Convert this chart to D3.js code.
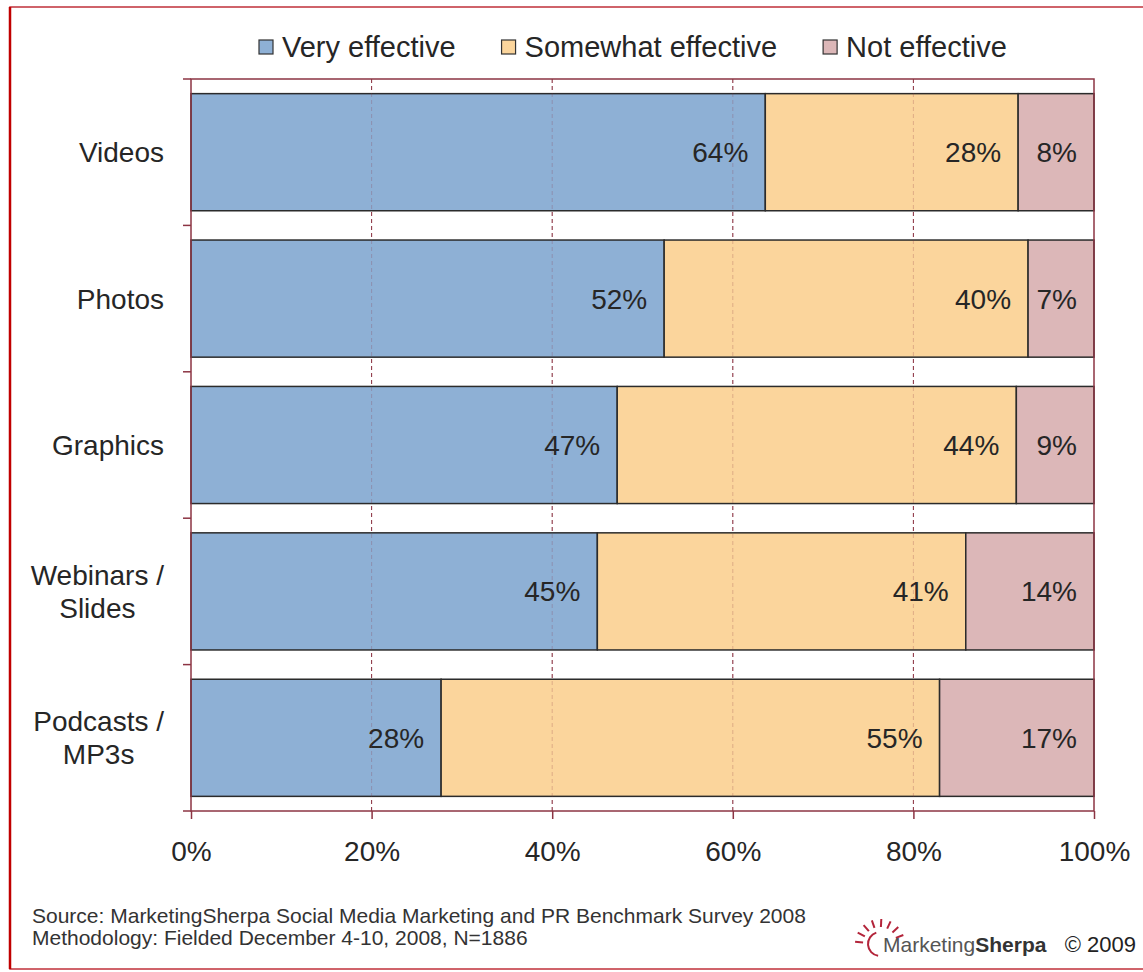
<!DOCTYPE html>
<html>
<head>
<meta charset="utf-8">
<script src="https://cdn.jsdelivr.net/npm/d3@7"></script>
<style>
  html, body { margin: 0; padding: 0; background: #fff; }
  svg { display: block; font-family: "Liberation Sans", Arial, sans-serif; }
</style>
</head>
<body>
<svg id="chart"></svg>
<script>
const width = 1143;
const height = 972;

// data
const categories = ['Videos', 'Photos', 'Graphics', 'Webinars /\nSlides', 'Podcasts /\nMP3s'];
const seriesNames = ['Very effective', 'Somewhat effective', 'Not effective'];
const veryEffective = [63.6, 52.4, 47.2, 45.0, 27.7];
const somewhatEffective = [28.0, 40.3, 44.2, 40.8, 55.2];
const notEffective = [8.4, 7.3, 8.6, 14.2, 17.1];
const xTicks = [0, 20, 40, 60, 80, 100];
const sourceLines = [
  'Source: MarketingSherpa Social Media Marketing and PR Benchmark Survey 2008',
  'Methodology: Fielded December 4-10, 2008, N=1886'
];

const colors = ['#8eb0d5', '#fbd59c', '#dcb7b8'];
const frameColor = '#8c3443';
const textColor = '#262626';

const rows = categories.map((c, i) => ({
  category: c,
  'Very effective': veryEffective[i],
  'Somewhat effective': somewhatEffective[i],
  'Not effective': notEffective[i]
}));

const svg = d3.select('#chart')
  .attr('width', width)
  .attr('height', height);

// outer border
svg.append('rect')
  .attr('x', 10).attr('y', 7)
  .attr('width', 1150).attr('height', 962)
  .attr('fill', 'none')
  .attr('stroke', '#c0303a')
  .attr('stroke-width', 1.5);
svg.append('line')
  .attr('x1', 10).attr('x2', 10).attr('y1', 7).attr('y2', 969)
  .attr('stroke', '#c00000').attr('stroke-width', 2.5);

const margin = { top: 79, right: 49, bottom: 161, left: 191 };

const x = d3.scaleLinear()
  .domain([0, 100])
  .range([margin.left, width - margin.right]);

const y = d3.scaleBand()
  .domain(categories)
  .range([margin.top, height - margin.bottom])
  .paddingInner(0.2)
  .paddingOuter(0.1);

const stack = d3.stack().keys(seriesNames);
const series = stack(rows);

// gridlines behind the bars
const gridTicks = xTicks.filter(t => t > 0 && t < 100);
svg.append('g')
  .selectAll('line')
  .data(gridTicks)
  .join('line')
  .attr('x1', d => x(d)).attr('x2', d => x(d))
  .attr('y1', y.range()[0]).attr('y2', y.range()[1])
  .attr('stroke', frameColor)
  .attr('stroke-width', 1)
  .attr('stroke-dasharray', '4,3');

// bars
const layers = svg.append('g')
  .selectAll('g')
  .data(series)
  .join('g')
  .attr('fill', (d, i) => colors[i]);

layers.selectAll('rect')
  .data(d => d)
  .join('rect')
  .attr('x', d => x(d[0]))
  .attr('width', d => x(d[1]) - x(d[0]))
  .attr('y', d => y(d.data.category))
  .attr('height', y.bandwidth())
  .attr('stroke', '#2b2b2b')
  .attr('stroke-width', 1.5);

// faint gridlines over the bars
svg.append('g')
  .selectAll('line')
  .data(gridTicks)
  .join('line')
  .attr('x1', d => x(d)).attr('x2', d => x(d))
  .attr('y1', y.range()[0]).attr('y2', y.range()[1])
  .attr('stroke', frameColor)
  .attr('stroke-opacity', 0.25)
  .attr('stroke-width', 1)
  .attr('stroke-dasharray', '4,3');

// value labels, right aligned inside each segment
layers.selectAll('text')
  .data(d => d)
  .join('text')
  .attr('x', d => x(d[1]) - 17)
  .attr('y', d => y(d.data.category) + y.bandwidth() / 2)
  .attr('dy', '0.36em')
  .attr('text-anchor', 'end')
  .attr('fill', textColor)
  .attr('font-size', 28)
  .text(d => Math.round(d[1] - d[0]) + '%');

// plot frame
svg.append('rect')
  .attr('x', x(0)).attr('y', y.range()[0])
  .attr('width', x(100) - x(0))
  .attr('height', y.range()[1] - y.range()[0])
  .attr('fill', 'none')
  .attr('stroke', frameColor)
  .attr('stroke-width', 1.5);

// x axis
const xAxis = svg.append('g')
  .attr('transform', `translate(0,${y.range()[1]})`)
  .call(d3.axisBottom(x).tickValues(xTicks).tickSize(8).tickPadding(22).tickFormat(d => d + '%'));
xAxis.select('.domain').remove();
xAxis.selectAll('line').attr('stroke', frameColor).attr('stroke-width', 1.5);
xAxis.selectAll('text')
  .attr('font-size', 28)
  .attr('font-family', '"Liberation Sans", Arial, sans-serif')
  .attr('fill', textColor);

// y axis ticks at the category boundaries
const step = y.step();
const boundaries = categories.map(c => y(c) - step * 0.1).concat([y.range()[1]]);
svg.append('g')
  .selectAll('line')
  .data(boundaries)
  .join('line')
  .attr('x1', x(0) - 8).attr('x2', x(0))
  .attr('y1', d => d).attr('y2', d => d)
  .attr('stroke', frameColor)
  .attr('stroke-width', 1.5);

// category labels (multi-line ones are centred within their block)
const catLabels = svg.append('g')
  .selectAll('text')
  .data(categories)
  .join('text')
  .attr('fill', textColor)
  .attr('font-size', 28)
  .attr('text-anchor', 'middle');

catLabels.each(function (d) {
  const lines = d.split('\n');
  const t = d3.select(this);
  const cy = y(d) + y.bandwidth() / 2;
  const lh = 33;
  const spans = lines.map((line, i) => t.append('tspan')
    .attr('x', 0)
    .attr('y', cy + (i - (lines.length - 1) / 2) * lh)
    .attr('dy', '0.36em')
    .text(line));
  const w = d3.max(spans, s => s.node().getComputedTextLength());
  spans.forEach(s => s.attr('x', 164 - w / 2));
});

// legend
const legend = svg.append('g').attr('transform', 'translate(259,47)');
let lx = 0;
seriesNames.forEach((name, i) => {
  const g = legend.append('g').attr('transform', `translate(${lx},0)`);
  g.append('rect')
    .attr('x', 0).attr('y', -7)
    .attr('width', 14).attr('height', 14)
    .attr('fill', colors[i])
    .attr('stroke', '#333')
    .attr('stroke-width', 1.2);
  const t = g.append('text')
    .attr('x', 23)
    .attr('dy', '0.36em')
    .attr('fill', textColor)
    .attr('font-size', 29)
    .text(name);
  lx += 23 + t.node().getComputedTextLength() + 46;
});

// source notes
svg.append('g')
  .selectAll('text')
  .data(sourceLines)
  .join('text')
  .attr('x', 32)
  .attr('y', (d, i) => 923 + i * 22)
  .attr('fill', '#333')
  .attr('font-size', 21)
  .text(d => d);

// logo
const logo = svg.append('g').attr('transform', 'translate(880,944)');
const logoRed = '#b3243a';
logo.append('path')
  .attr('d', d3.arc()({ innerRadius: 11, outerRadius: 13, startAngle: -Math.PI * 0.95, endAngle: -Math.PI * 0.1 }))
  .attr('fill', logoRed);
d3.range(-175, -20, 22).forEach(a => {
  const r = a * Math.PI / 180;
  logo.append('line')
    .attr('x1', Math.cos(r) * 17).attr('y1', Math.sin(r) * 17)
    .attr('x2', Math.cos(r) * 25).attr('y2', Math.sin(r) * 25)
    .attr('stroke', logoRed)
    .attr('stroke-width', 2);
});
const logoText = svg.append('text')
  .attr('x', 883)
  .attr('y', 952)
  .attr('font-size', 21)
  .attr('fill', '#555');
logoText.append('tspan').text('Marketing');
logoText.append('tspan').attr('font-weight', 'bold').attr('fill', '#333').text('Sherpa');
svg.append('text')
  .attr('x', 1136)
  .attr('y', 952)
  .attr('text-anchor', 'end')
  .attr('font-size', 22)
  .attr('fill', '#222')
  .text('\u00a9 2009');
</script>
</body>
</html>
